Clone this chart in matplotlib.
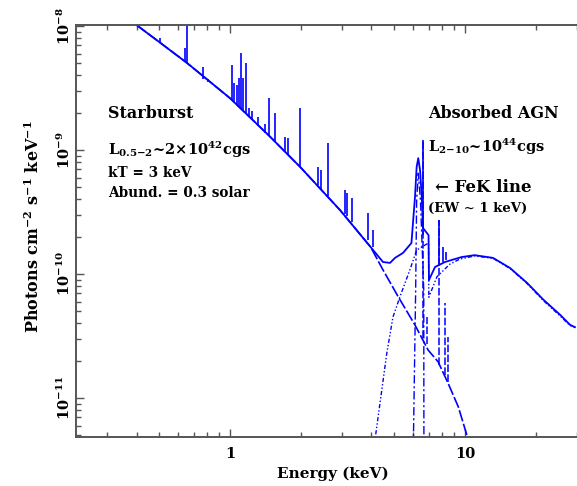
import matplotlib
matplotlib.use('Agg')
from matplotlib import pyplot as plt
from matplotlib.ticker import LogLocator, NullFormatter

# starburst (kT = 3 keV thermal) continuum
sb_E = [0.40, 0.50, 0.656, 1.0, 1.47, 1.99, 2.94, 3.97, 4.48, 5.20, 6.13,
        6.97, 7.69, 8.49, 9.37, 10.14, 10.4]
sb_F = [1.02e-8, 7.43e-9, 5.04e-9, 2.62e-9, 1.30e-9, 7.3e-10, 3.28e-10,
        1.65e-10, 1.08e-10, 6.56e-11, 3.88e-11, 2.44e-11, 1.96e-11, 1.31e-11,
        8.5e-12, 5.19e-12, 4.4e-12]

# total model (starburst + absorbed AGN + FeK)
tot_E = [0.40, 0.50, 0.656, 1.0, 1.47, 1.99, 2.94, 3.97, 4.48, 4.80, 5.04,
         5.45, 5.92, 6.13, 6.23, 6.33, 6.44, 6.55, 6.63, 6.89, 7.0, 7.03,
         7.46, 8.22, 9.66, 11.0, 13.17, 15.55, 18.37, 21.6, 25.4, 28.0, 29.4]
tot_F = [1.02e-8, 7.43e-9, 5.04e-9, 2.62e-9, 1.30e-9, 7.3e-10, 3.28e-10,
         1.65e-10, 1.25e-10, 1.23e-10, 1.35e-10, 1.48e-10, 1.78e-10, 4.18e-10,
         7.3e-10, 8.6e-10, 6.9e-10, 4.18e-10, 2.35e-10, 2.14e-10, 2.06e-10,
         8.95e-11, 1.14e-10, 1.25e-10, 1.37e-10, 1.42e-10, 1.35e-10, 1.12e-10,
         8.5e-11, 6.2e-11, 4.7e-11, 3.9e-11, 3.73e-11]

# absorbed AGN continuum (Fe edge near 7 keV)
agn_E = [4.10, 4.35, 4.65, 4.94, 5.28, 5.83, 6.23, 6.89, 7.0, 7.02, 7.6,
         8.62, 9.51, 11.0, 13.17, 15.55, 18.37, 21.6, 25.4, 28.0, 29.4]
agn_F = [4.0e-12, 9.1e-12, 2.3e-11, 4.5e-11, 6.5e-11, 1.08e-10, 1.56e-10,
         1.75e-10, 1.77e-10, 6.5e-11, 9.5e-11, 1.2e-10, 1.32e-10, 1.40e-10,
         1.34e-10, 1.11e-10, 8.4e-11, 6.1e-11, 4.6e-11, 3.85e-11, 3.7e-11]

# FeK gaussian of the AGN
fek_E = [6.03, 6.17, 6.23, 6.33, 6.47, 6.68, 6.69]
fek_F = [4e-12, 7.4e-11, 3.9e-10, 6.5e-10, 3.9e-10, 7.4e-11, 4e-12]

# emission lines on the total spectrum: energy, bottom, top
line_E = [0.504, 0.643, 0.656, 0.771, 0.806, 1.02, 1.04, 1.066, 1.087, 1.114,
          1.136, 1.164, 1.205, 1.24, 1.316, 1.409, 1.465, 1.554, 1.714, 1.765,
          1.995, 2.37, 2.44, 2.62, 3.09, 3.15, 3.30, 3.88, 4.06,
          6.66, 7.76, 8.05, 8.3]
line_lo = [7.43e-9, 5.13e-9, 5.04e-9, 3.74e-9, 3.53e-9, 2.53e-9, 2.44e-9,
           2.35e-9, 2.26e-9, 2.14e-9, 2.06e-9, 1.99e-9, 1.88e-9, 1.78e-9,
           1.56e-9, 1.37e-9, 1.30e-9, 1.16e-9, 9.64e-10, 9.12e-10, 7.3e-10,
           5.22e-10, 4.85e-10, 4.25e-10, 3.05e-10, 2.94e-10, 2.62e-10,
           1.88e-10, 1.65e-10, 2.06e-10, 1.2e-10, 1.25e-10, 1.3e-10]
line_hi = [8.0e-9, 6.65e-9, 2e-8, 4.68e-9, 3.74e-9, 4.84e-9, 3.47e-9,
           3.34e-9, 3.81e-9, 6.05e-9, 3.81e-9, 5.04e-9, 2.18e-9, 2.06e-9,
           1.85e-9, 1.62e-9, 2.62e-9, 1.99e-9, 1.27e-9, 1.25e-9, 2.18e-9,
           7.3e-10, 6.9e-10, 1.14e-9, 4.75e-10, 4.5e-10, 4.1e-10, 3.1e-10,
           2.26e-10, 1.2e-9, 2.72e-10, 1.65e-10, 1.5e-10]

# hot Fe lines of the starburst component alone
sbl_E = [6.66, 6.89, 7.76, 8.2, 8.45]
sbl_lo = [3.05e-11, 2.72e-11, 1.85e-11, 1.53e-11, 1.35e-11]
sbl_hi = [1.2e-9, 4.5e-11, 2.72e-10, 5.8e-11, 3.1e-11]

plt.rcParams['mathtext.fontset'] = 'dejavuserif'
plt.rcParams['font.family'] = 'DejaVu Serif'
plt.rcParams['font.weight'] = 'bold'
plt.rcParams['axes.labelweight'] = 'bold'
plt.rcParams['mathtext.default'] = 'regular'
blue = '#0000ff'
frame = '#555555'

fig = plt.figure(figsize=(5.77, 4.86), dpi=100)
ax = fig.add_axes([76/577, 49/486, 501/577, 412/486])

ax.plot(sb_E, sb_F, color=blue, lw=1.2, dashes=(7, 1.5))
ax.plot(tot_E, tot_F, color=blue, lw=1.3)
ax.plot(agn_E, agn_F, color=blue, lw=1.0, dashes=(3, 1.5, 1, 1.5, 1, 1.5))
ax.plot(fek_E, fek_F, color=blue, lw=1.0, dashes=(6, 2, 1.5, 2))
ax.vlines(line_E, line_lo, line_hi, color=blue, lw=1.2)
ax.vlines(sbl_E, sbl_lo, sbl_hi, color=blue, lw=1.1, linestyles=(0, (5, 1.5)))

ax.set_xscale('log')
ax.set_yscale('log')
ax.set_xlim(0.221, 30)
ax.set_ylim(4.85e-12, 1.02e-8)

ax.xaxis.set_minor_locator(LogLocator(base=10, subs=range(2, 10), numticks=20))
ax.xaxis.set_minor_formatter(NullFormatter())
ax.set_xticks([1, 10])
ax.set_xticklabels(['1', '10'])
ax.set_yticks([1e-11, 1e-10, 1e-9, 1e-8])
ax.set_yticklabels([r'$10^{-11}$', r'$10^{-10}$', r'$10^{-9}$', r'$10^{-8}$'])
ax.yaxis.set_minor_locator(LogLocator(base=10, subs=range(2, 10), numticks=20))
ax.yaxis.set_minor_formatter(NullFormatter())

for s in ['left', 'bottom', 'top']:
    ax.spines[s].set_color(frame)
    ax.spines[s].set_linewidth(1.4)
ax.spines['right'].set_visible(False)
ax.tick_params(which='both', direction='in', top=True, right=False,
               color=frame, width=1.0, labelsize=10.5)
ax.tick_params(which='major', length=6)
ax.tick_params(which='minor', length=3.5)
ax.tick_params(axis='x', pad=7)
ax.tick_params(axis='y', pad=2.5, labelrotation=90)
for lbl in ax.get_yticklabels():
    lbl.set_va('center')

ax.set_xlabel('Energy (keV)', fontsize=11)
ax.xaxis.set_label_coords(0.513, -0.072)
ax.set_ylabel(r'Photons cm$^{-2}$ s$^{-1}$ keV$^{-1}$', fontsize=11.5)
ax.yaxis.set_label_coords(-0.066, 0.51)

big = 11.5
small = 9.8
ax.text(0.064, 0.774, 'Starburst', transform=ax.transAxes, fontsize=big)
ax.text(0.064, 0.684, r'L$_{0.5{-}2}$~2$\times$10$^{42}$cgs',
        transform=ax.transAxes, fontsize=10.5)
ax.text(0.064, 0.631, 'kT = 3 keV', transform=ax.transAxes, fontsize=small)
ax.text(0.064, 0.5825, 'Abund. = 0.3 solar', transform=ax.transAxes,
        fontsize=small)
ax.text(0.7026, 0.774, 'Absorbed AGN', transform=ax.transAxes, fontsize=big)
ax.text(0.7026, 0.692, r'L$_{2{-}10}$~10$^{44}$cgs',
        transform=ax.transAxes, fontsize=10.5)
ax.text(0.7166, 0.5947, '\u2190 FeK line', transform=ax.transAxes,
        fontsize=12)
ax.text(0.7026, 0.546, '(EW ~ 1 keV)', transform=ax.transAxes,
        fontsize=9.5)

fig.savefig('out.png', dpi=100)
